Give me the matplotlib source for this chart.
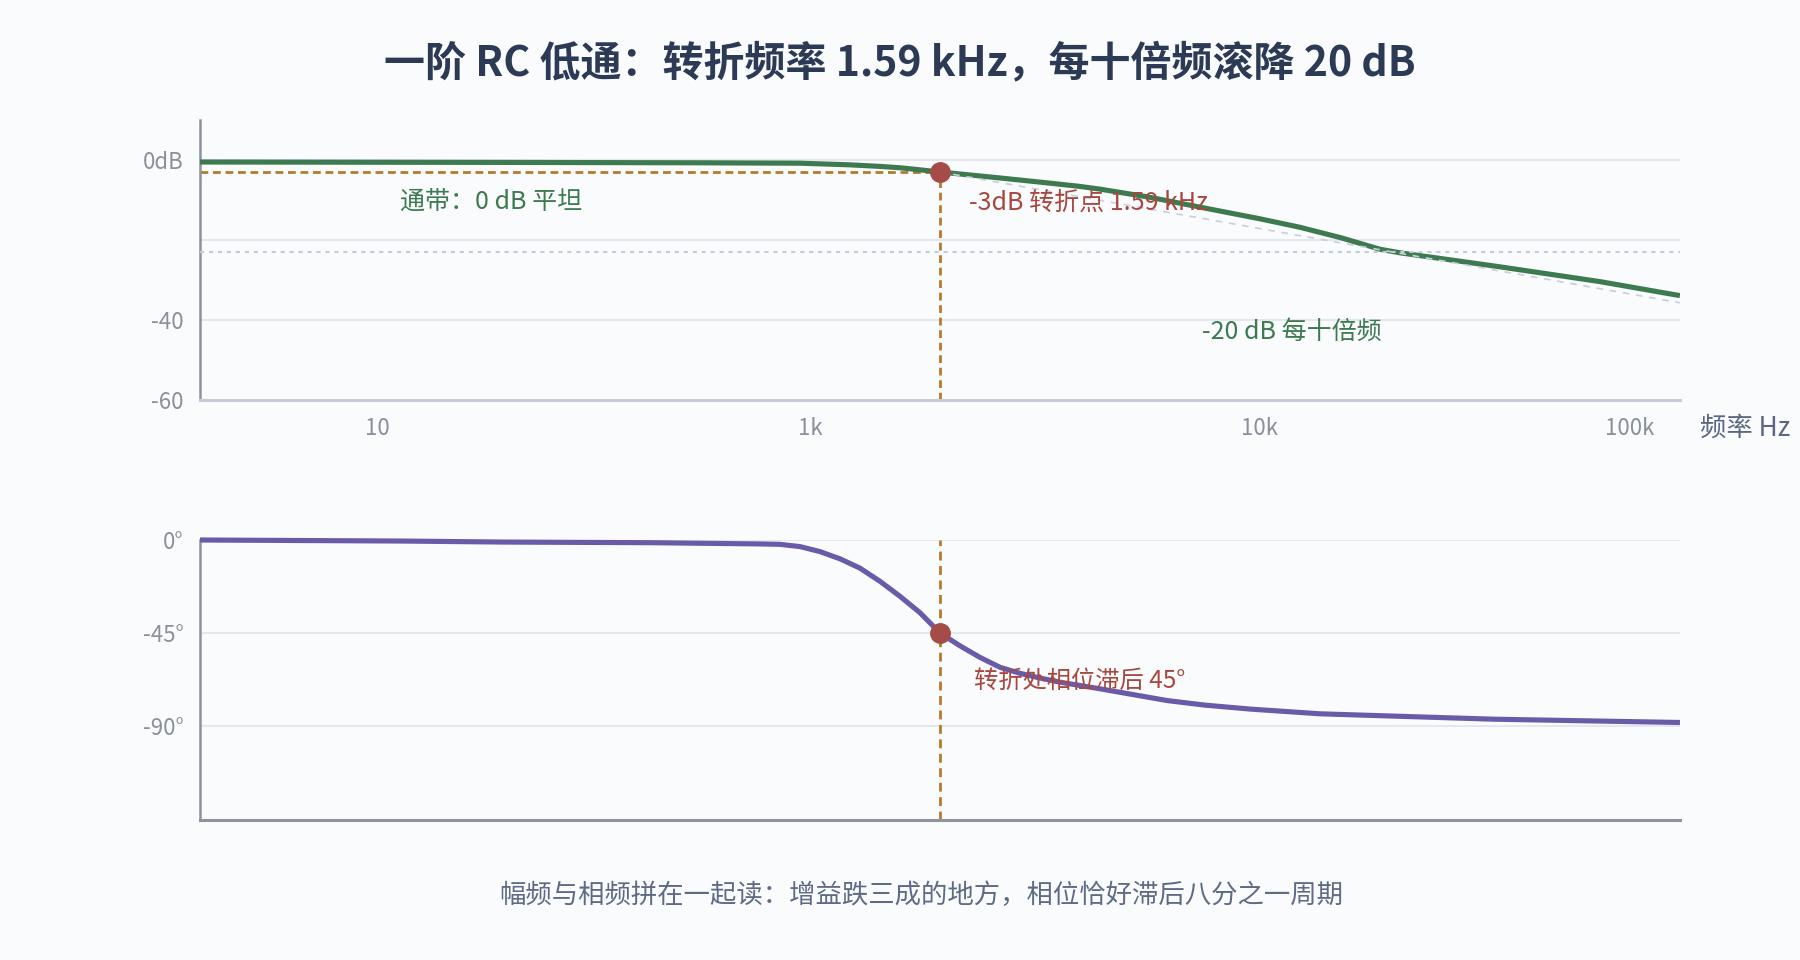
import numpy as np
import matplotlib
matplotlib.use('Agg')
import matplotlib.pyplot as plt
from matplotlib.ticker import NullLocator

plt.rcParams['font.family'] = ['Noto Sans CJK SC', 'DejaVu Sans']

TITLE = '一阶 RC 低通：转折频率 1.59 kHz，每十倍频滚降 20 dB'
FOOTER = '幅频与相频拼在一起读：增益跌三成的地方，相位恰好滞后八分之一周期'
X_LABEL = '频率 Hz'

F_C = 1590          # corner frequency, Hz
CORNER_DB = -3
CORNER_DEG = -45
REF_DB = -23        # dotted reference level

# magnitude response
GAIN_HZ = [1.52, 37, 310, 900, 1150, 1284, 1380, 1480, 1590, 2250, 3000,
           3550, 4000, 5300, 7100, 10000, 12800, 16500, 21100, 23900, 44500,
           83000, 136000]
GAIN_DB = [-0.5, -0.6, -0.7, -0.8, -1.2, -1.6, -1.95, -2.45, -3.0, -4.5,
           -5.8, -6.6, -7.3, -9.3, -11.8, -14.7, -16.8, -19.4, -22.3, -23.2,
           -26.7, -30.4, -33.9]

# -20 dB/decade guide
ASYM_HZ = [1590, 136000]
ASYM_DB = [-3, -35.7]

# phase response
PHASE_HZ = [1.52, 12.8, 39, 182, 588, 727, 900, 1036, 1113, 1195, 1284, 1378,
            1481, 1590, 1784, 2001, 2245, 2518, 2825, 3169, 3555, 3988, 5870,
            7290, 9440, 14520, 42640, 136000]
PHASE_DEG = [0, -0.5, -1.0, -1.3, -1.9, -2.1, -3.2, -5.6, -9.1, -13.6, -20,
             -27.2, -35.2, -45, -51.2, -56.8, -61.6, -64.5, -66.8, -68.8,
             -70.4, -72, -77.7, -79.9, -81.8, -84.1, -86.7, -88.3]

X_TICKS = [10, 1000, 10000, 100000]
X_TICK_LABELS = ['10', '1k', '10k', '100k']
GAIN_TICKS = [0, -20, -40, -60]
GAIN_TICK_LABELS = ['0dB', '', '-40', '-60']
PHASE_TICKS = [0, -45, -90]
PHASE_TICK_LABELS = ['0°', '-45°', '-90°']

# the frequency axis of the picture is not a plain log axis:
# piecewise log scale through these anchors
AXIS_HZ = [1.52, 10, 1000, 1590, 10000, 100000, 136000]
AXIS_POS = [0, 177, 610, 740, 1060, 1430, 1480]
LOG_ANCHORS = np.log10(AXIS_HZ)

BG = '#f9fbfd'
GREEN = '#3e7a4f'
PURPLE = '#6a5ba8'
MARK = '#a64c48'
RED_TXT = '#a8473f'
ORANGE = '#b57a2c'
GRID = '#e2e7f0'
TICK_C = '#8b909a'
SPINE = '#8f939c'


def fwd(f):
    f = np.clip(np.asarray(f, dtype=float), 1e-6, None)
    return np.interp(np.log10(f), LOG_ANCHORS, AXIS_POS)


def inv(p):
    return 10 ** np.interp(np.asarray(p, dtype=float), AXIS_POS, LOG_ANCHORS)


def style_axes(ax, ticks, labels, ylim):
    ax.set_facecolor(BG)
    ax.set_xscale('function', functions=(fwd, inv))
    ax.set_xlim(AXIS_HZ[0], AXIS_HZ[-1])
    ax.set_ylim(*ylim)
    ax.set_yticks(ticks, labels=labels)
    ax.xaxis.set_minor_locator(NullLocator())
    ax.yaxis.set_minor_locator(NullLocator())
    ax.yaxis.grid(True, color=GRID, lw=1.4)
    ax.set_axisbelow(True)
    for s in ('top', 'right'):
        ax.spines[s].set_visible(False)
    ax.spines['left'].set_color(SPINE)
    ax.spines['left'].set_linewidth(1.8)
    ax.tick_params(axis='both', length=0, labelsize=16,
                   labelcolor=TICK_C, pad=12)


def main():
    fig = plt.figure(figsize=(18, 9.6), dpi=100)
    fig.patch.set_facecolor(BG)

    # ---- magnitude ----
    ax1 = fig.add_axes([0.1111, 0.5833, 0.8222, 0.2917])
    style_axes(ax1, GAIN_TICKS, GAIN_TICK_LABELS, (-60, 10))
    ax1.spines['bottom'].set_color('#c6ccd7')
    ax1.spines['bottom'].set_linewidth(2.2)
    ax1.set_xticks(X_TICKS, labels=X_TICK_LABELS)

    ax1.plot(GAIN_HZ, GAIN_DB, color=GREEN, lw=3.7, zorder=3,
             solid_capstyle='butt', solid_joinstyle='round')
    ax1.axhline(REF_DB, color='#c5ccd9', lw=1.5, dashes=(2, 2.3), zorder=4)
    ax1.plot(ASYM_HZ, ASYM_DB, color='#c8cfdb', lw=1.2, dashes=(4, 4),
             zorder=4)
    ax1.hlines(CORNER_DB, AXIS_HZ[0], F_C, color=ORANGE, lw=2.0,
               linestyles=(0, (2.8, 1.7)), zorder=2)
    ax1.vlines(F_C, -60, CORNER_DB, color=ORANGE, lw=2.0,
               linestyles=(0, (2.8, 1.7)), zorder=2)
    ax1.plot([F_C], [CORNER_DB], 'o', ms=14, color=MARK, zorder=5)

    ax1.text(0.135, 0.707, '通带：0 dB 平坦', transform=ax1.transAxes,
             color=GREEN, fontsize=18, va='center', ha='left', zorder=6)
    ax1.annotate('-3dB 转折点 1.59 kHz', (F_C, CORNER_DB),
                 xytext=(29, -31), textcoords='offset pixels',
                 color=RED_TXT, fontsize=18, va='center', ha='left', zorder=6)
    ax1.text(0.677, 0.243, '-20 dB 每十倍频', transform=ax1.transAxes,
             color=GREEN, fontsize=18, va='center', ha='left', zorder=6)

    # ---- phase ----
    ax2 = fig.add_axes([0.1111, 0.1458, 0.8222, 0.2917])
    style_axes(ax2, PHASE_TICKS, PHASE_TICK_LABELS, (-135.5, 0))
    ax2.spines['bottom'].set_color(SPINE)
    ax2.spines['bottom'].set_linewidth(2.2)
    ax2.tick_params(axis='x', labelbottom=False)

    ax2.plot(PHASE_HZ, PHASE_DEG, color=PURPLE, lw=3.7, zorder=3,
             clip_on=False, solid_capstyle='butt', solid_joinstyle='round')
    ax2.axvline(F_C, color=ORANGE, lw=2.0, linestyle=(0, (3.2, 2.0)),
                zorder=2)
    ax2.plot([F_C], [CORNER_DEG], 'o', ms=14, color=MARK, zorder=5)
    ax2.annotate('转折处相位滞后 45°', (F_C, CORNER_DEG),
                 xytext=(34, -48), textcoords='offset pixels',
                 color=RED_TXT, fontsize=17.5, va='center', ha='left',
                 zorder=6)

    # ---- texts ----
    fig.text(0.5, 0.934, TITLE, ha='center', va='center', fontsize=29.5,
             fontweight='bold', color='#2c3a55')
    fig.text(0.9444, 0.5542, X_LABEL, ha='left', va='center', fontsize=19,
             color='#5a6682')
    fig.text(0.5117, 0.0677, FOOTER, ha='center', va='center', fontsize=19,
             color='#5f6b86')

    fig.savefig('out.png', dpi=100, facecolor=BG)


if __name__ == '__main__':
    main()
